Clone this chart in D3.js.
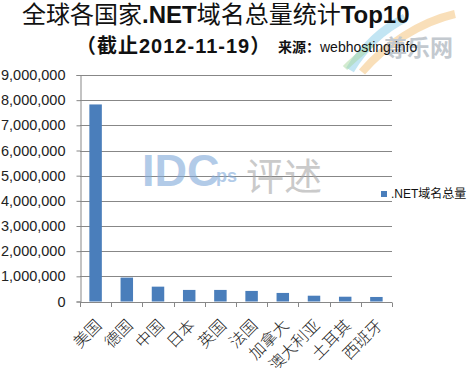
<!DOCTYPE html>
<html>
<head>
<meta charset="utf-8">
<script src="https://cdn.jsdelivr.net/npm/d3@7"></script>
<style>
  body { margin: 0; background: #fff; }
  svg { display: block; }
</style>
</head>
<body>
<svg id="viz"></svg>
<script>
var width = 468;
var height = 368;

// countries and .NET domain totals
var countries = ["美国", "德国", "中国", "日本", "英国", "法国", "加拿大", "澳大利亚", "土耳其", "西班牙"];
var totals = [7830000, 950000, 590000, 460000, 460000, 420000, 340000, 230000, 190000, 180000];
var yTicks = [0, 1000000, 2000000, 3000000, 4000000, 5000000, 6000000, 7000000, 8000000, 9000000];
var seriesName = ".NET域名总量";

var cjk = "Arial, 'Noto Sans CJK SC', sans-serif";

var svg = d3.select("#viz").attr("width", width).attr("height", height);

var plot = {left: 80, right: 392, top: 75, bottom: 301.5};

var x = d3.scaleBand().domain(countries).range([plot.left, plot.right]).paddingInner(0.6).paddingOuter(0.3);
var xb = d3.scaleBand().domain(countries).range([plot.left, plot.right]);
var y = d3.scaleLinear().domain([0, 9000000]).range([plot.bottom, plot.top]);

// logo watermark top right
var wm = svg.append("g").attr("class", "watermark");
wm.append("path")
  .attr("d", "M350,70 C365,45 385,28 405,18")
  .attr("fill", "none").attr("stroke", "#8fd0ea").attr("stroke-width", 9).attr("opacity", 0.55);
wm.append("path")
  .attr("d", "M362,72 C385,45 420,22 455,14")
  .attr("fill", "none").attr("stroke", "#f5c98a").attr("stroke-width", 8).attr("opacity", 0.6);
wm.append("path")
  .attr("d", "M345,68 C355,58 365,50 372,44")
  .attr("fill", "none").attr("stroke", "#a8d8a0").attr("stroke-width", 6).attr("opacity", 0.5);
wm.append("text")
  .attr("x", 384).attr("y", 56)
  .style("font-family", "'Noto Sans CJK SC', sans-serif")
  .style("font-size", "23px").style("font-weight", 700)
  .attr("fill", "#c3c9cf")
  .text("尊乐网");

// gridlines
svg.append("g").selectAll("line")
  .data(yTicks.slice(1))
  .enter().append("line")
  .attr("x1", plot.left).attr("x2", plot.right)
  .attr("y1", function(d) { return Math.round(y(d)) + 0.5; })
  .attr("y2", function(d) { return Math.round(y(d)) + 0.5; })
  .attr("stroke", "#878787").attr("stroke-width", 1);

// y axis
var yAxis = d3.axisLeft(y).tickValues(yTicks).tickSize(4).tickPadding(11)
  .tickFormat(d3.format(",.0f"));
var gy = svg.append("g").attr("transform", "translate(" + (plot.left + 0.5) + ",0)").call(yAxis);
gy.select(".domain").attr("stroke", "#878787");
gy.selectAll(".tick line").attr("stroke", "#878787");
gy.selectAll(".tick text").style("font-family", "Arial, sans-serif").style("font-size", "14.5px").attr("fill", "#222");

// bars
svg.append("g").selectAll("rect")
  .data(totals)
  .enter().append("rect")
  .attr("x", function(d, i) { return x(countries[i]); })
  .attr("width", x.bandwidth())
  .attr("y", function(d) { return y(d); })
  .attr("height", function(d) { return y(0) - y(d); })
  .attr("fill", "#4a7ebb");

// x axis line and tick marks at band edges
var gx = svg.append("g");
gx.append("line")
  .attr("x1", plot.left).attr("x2", plot.right)
  .attr("y1", Math.round(y(0)) + 0.5).attr("y2", Math.round(y(0)) + 0.5)
  .attr("stroke", "#878787");
var edges = countries.map(function(c) { return xb(c); }).concat([plot.right]);
gx.selectAll("line.tk")
  .data(edges)
  .enter().append("line").attr("class", "tk")
  .attr("x1", function(d) { return Math.round(d) + 0.5; })
  .attr("x2", function(d) { return Math.round(d) + 0.5; })
  .attr("y1", Math.round(y(0)) + 0.5).attr("y2", Math.round(y(0)) + 5)
  .attr("stroke", "#878787");

gx.selectAll("text")
  .data(countries)
  .enter().append("text")
  .attr("transform", function(d) {
    return "translate(" + (xb(d) + xb.bandwidth() / 2 + 3) + "," + (y(0) + 21) + ") rotate(-45)";
  })
  .attr("text-anchor", "end")
  .attr("dy", "0.35em")
  .style("font-family", "'Noto Sans CJK SC', sans-serif")
  .style("font-size", "16px")
  .style("font-weight", 300)
  .attr("fill", "#222")
  .text(function(d) { return d; });

// IDC watermark over the plot
wm = svg.append("g").attr("opacity", 0.6);
wm.append("text").attr("x", 142).attr("y", 186)
  .style("font-family", "Arial, sans-serif").style("font-size", "45px").style("font-weight", 700)
  .attr("fill", "#7fa9da").text("IDC");
wm.append("text").attr("x", 216).attr("y", 182)
  .style("font-family", "Arial, sans-serif").style("font-size", "18px").style("font-weight", 700)
  .attr("fill", "#7fa9da").text("ps");
wm.append("text").attr("x", 246).attr("y", 190)
  .style("font-family", "'Noto Sans CJK SC', sans-serif").style("font-size", "38px")
  .attr("fill", "#a8a8a8").text("评述");

// legend
var lg = svg.append("g").attr("transform", "translate(381,191)");
lg.append("rect").attr("width", 6).attr("height", 6).attr("fill", "#4a7ebb");
lg.append("text").attr("x", 10).attr("y", 7)
  .style("font-family", cjk).style("font-size", "12px").attr("fill", "#111")
  .text(seriesName);

// titles
var t1 = svg.append("text").attr("x", 22).attr("y", 23)
  .style("font-family", cjk).style("font-size", "24px").attr("fill", "#111");
t1.append("tspan").style("font-weight", 400).text("全球各国家");
t1.append("tspan").style("font-weight", 700).text(".NET");
t1.append("tspan").style("font-weight", 400).text("域名总量统计");
t1.append("tspan").style("font-weight", 700).text("Top10");

svg.append("text").attr("x", 76).attr("y", 53)
  .style("font-family", cjk).style("font-size", "20px").style("font-weight", 700)
  .style("letter-spacing", "1px").attr("fill", "#111")
  .text("（截止2012-11-19）");
var src = svg.append("text").attr("x", 278).attr("y", 52)
  .style("font-family", cjk).style("font-size", "14px").attr("fill", "#111");
src.append("tspan").style("font-weight", 700).text("来源：");
src.append("tspan").text("webhosting.info");
</script>
</body>
</html>
